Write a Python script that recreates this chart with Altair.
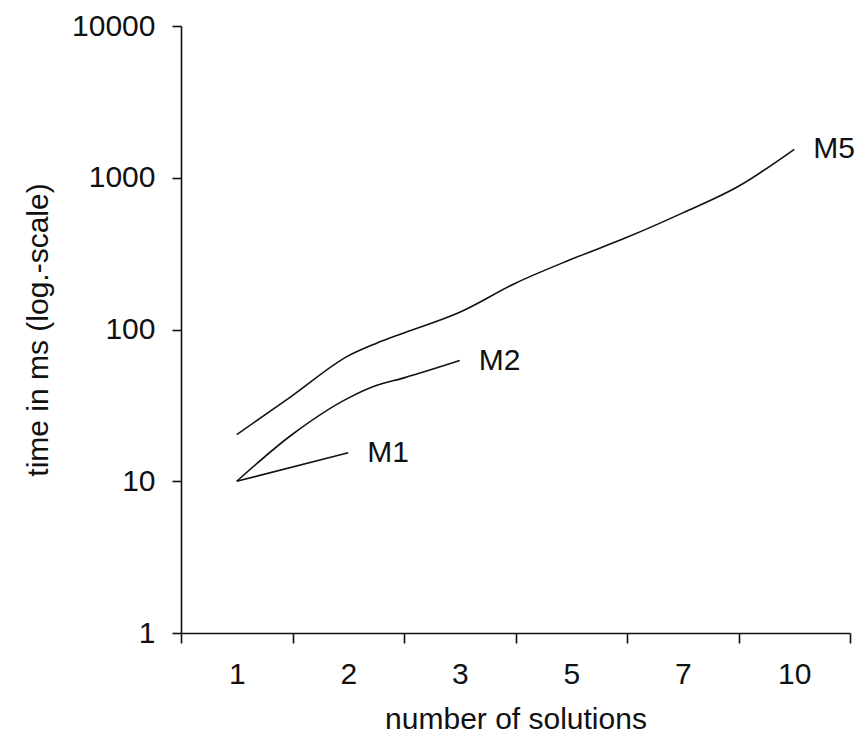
import altair as alt
import pandas as pd

# Category labels of the x axis (positions 1..6)
categories = ["1", "2", "3", "5", "7", "10"]

# Series: position along the category axis, time in ms
m1_pos = [1, 2]
m1_ms = [10, 15.4]

m2_pos = [1, 1.5, 2, 2.25, 2.5, 3]
m2_ms = [10, 20.4, 35.3, 42.7, 48, 62.4]

m5_pos = [1, 1.5, 2, 2.25, 2.5, 3, 3.5, 4, 4.5, 5, 5.5, 6]
m5_ms = [20.3, 36.7, 67, 81, 95, 130, 202, 290, 405, 587, 879, 1540]

y_ticks = [1, 10, 100, 1000, 10000]

rows = []
for name, ps, vs in [("M1", m1_pos, m1_ms), ("M2", m2_pos, m2_ms), ("M5", m5_pos, m5_ms)]:
    for i, (p, v) in enumerate(zip(ps, vs)):
        rows.append({"series": name, "pos": p, "ms": v, "last": i == len(ps) - 1})
df = pd.DataFrame(rows)

FONT = "Liberation Sans"
W, H = 669, 607
n = len(categories)
tick_vals = [i + 0.5 for i in range(n + 1)]
label_expr = "[" + ",".join("'%s'" % c for c in categories) + ",''][round(datum.value - 0.5)]"

x_enc = alt.X(
    "pos:Q",
    scale=alt.Scale(domain=[0.5, n + 0.5], nice=False, zero=False),
    axis=alt.Axis(
        values=tick_vals,
        labelExpr=label_expr,
        labelOffset=W / n / 2,
        labelBound=False,
        labelOverlap=False,
        labelFlush=False,
        grid=False,
        tickSize=10,
        labelPadding=16,
        title="number of solutions",
        titlePadding=15,
    ),
)
y_enc = alt.Y(
    "ms:Q",
    scale=alt.Scale(type="log", domain=[1, 10000], nice=False),
    axis=alt.Axis(
        values=y_ticks,
        format="d",
        grid=False,
        tickSize=9,
        labelPadding=17,
        title="time in ms (log.-scale)",
        titlePadding=18,
    ),
)

lines = alt.Chart(df).mark_line(
    color="#111111", strokeWidth=1.6, interpolate="monotone"
).encode(x=x_enc, y=y_enc, detail="series:N")

labels = alt.Chart(df).transform_filter("datum.last").mark_text(
    align="left", baseline="middle", dx=19, fontSize=30, font=FONT, color="#111111"
).encode(x="pos:Q", y="ms:Q", text="series:N")

chart = (
    alt.layer(lines, labels)
    .properties(
        width=W,
        height=H,
        autosize=alt.AutoSizeParams(type="none"),
        padding={"left": 173, "top": 18, "right": 6, "bottom": 104},
        background="white",
    )
    .configure_view(stroke=None)
    .configure_axis(
        domainColor="#111111",
        domainWidth=1.6,
        tickColor="#111111",
        tickWidth=1.6,
        labelFont=FONT,
        labelFontSize=30,
        labelColor="#111111",
        titleFont=FONT,
        titleFontSize=30,
        titleFontWeight="normal",
        titleColor="#111111",
    )
)

chart.save("out.html", embed_options={"renderer": "svg", "actions": False})
